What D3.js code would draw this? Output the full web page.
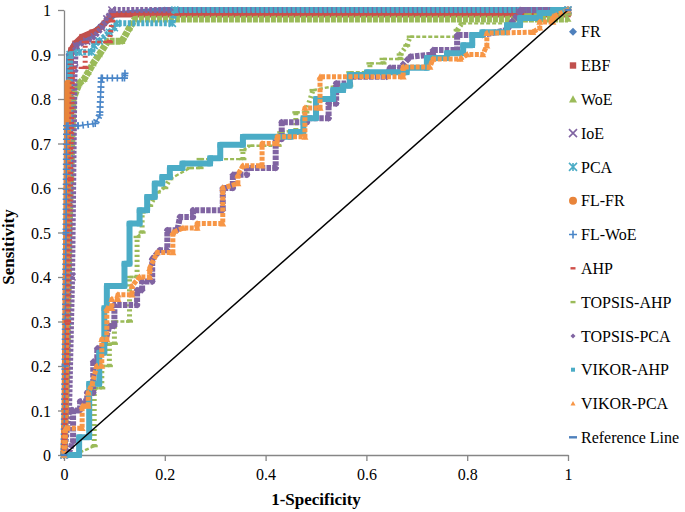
<!DOCTYPE html>
<html>
<head>
<meta charset="utf-8">
<script src="https://cdn.jsdelivr.net/npm/d3@7"></script>
<style>
body{margin:0;background:#fff;}
text{font-family:"Liberation Serif","Times New Roman",serif;fill:#000;}
</style>
</head>
<body>
<svg id="chart" width="685" height="512"></svg>
<script>
// series names (legend order = drawing order)
var seriesNames = ["FR","EBF","WoE","IoE","PCA","FL-FR","FL-WoE","AHP","TOPSIS-AHP","TOPSIS-PCA","VIKOR-AHP","VIKOR-PCA","Reference Line"];
var xTicks = [0,0.2,0.4,0.6,0.8,1];
var yTicks = [0,0.1,0.2,0.3,0.4,0.5,0.6,0.7,0.8,0.9,1];

// ROC points [1-specificity, sensitivity]
var frPts = [[0,0],[0.004,0.2],[0.008,0.5],[0.01,0.9],[0.02,0.92],[0.05,0.94],[0.08,0.97],[0.1,0.99],[0.2,1],[1,1]];
var ebfPts = [[0,0],[0.006,0.2],[0.01,0.5],[0.014,0.91],[0.022,0.925],[0.036,0.94],[0.056,0.95],[0.067,0.955],[0.08,0.97],[0.095,0.99],[1,0.99]];
var woePts = [[0,0],[0.006,0.2],[0.01,0.5],[0.018,0.8],[0.03,0.835],[0.04,0.845],[0.048,0.86],[0.058,0.88],[0.07,0.9],[0.087,0.93],[0.115,0.93],[0.13,0.96],[0.141,0.98],[1,0.98]];
var ioePts = [[0,0],[0.01,0.1],[0.016,0.4],[0.021,0.87],[0.024,0.92],[0.045,0.93],[0.06,0.94],[0.075,0.96],[0.085,0.98],[0.095,1],[1,1]];
var pcaPts = [[0,0],[0.006,0.3],[0.012,0.9],[0.03,0.905],[0.055,0.905],[0.06,0.92],[0.07,0.93],[0.09,0.95],[0.1,0.96],[0.105,0.97],[0.215,0.97],[0.22,1],[1,1]];
var flfrPts = [[0,0],[0.002,0.1],[0.004,0.35],[0.006,0.6],[0.008,0.836],null,[1,1]];
var flwoePts = [[0,0],[0.002,0.2],[0.004,0.5],[0.005,0.74],[0.028,0.74],[0.062,0.745],[0.071,0.764],[0.074,0.847],[0.12,0.847],[0.121,0.858]];
var ahpPts = [[0,0],[0.007,0.3],[0.013,0.62],[0.017,0.87],[0.042,0.87],[0.042,0.928],[0.09,0.928],[0.095,0.975],[0.1,0.99],[1,0.99]];
var topsisAhpPts = [[0,0],[0.02,0],[0.06,0.02],[0.06,0.15],[0.075,0.15],[0.075,0.2],[0.09,0.2],[0.09,0.25],[0.1,0.25],[0.1,0.3],[0.13,0.3],[0.13,0.4],[0.145,0.4],[0.145,0.49],[0.155,0.5],[0.155,0.545],[0.17,0.56],[0.185,0.59],[0.2,0.6],[0.21,0.62],[0.25,0.645],[0.27,0.645],[0.27,0.665],[0.355,0.665],[0.355,0.685],[0.37,0.695],[0.425,0.695],[0.43,0.725],[0.46,0.73],[0.46,0.77],[0.48,0.77],[0.494,0.82],[0.542,0.83],[0.567,0.83],[0.567,0.86],[0.607,0.86],[0.607,0.88],[0.633,0.88],[0.633,0.89],[0.667,0.89],[0.667,0.9],[0.68,0.92],[0.687,0.94],[0.78,0.94],[0.78,0.955],[0.79,0.97],[0.885,0.97],[0.92,0.99],[1,0.99]];
var topsisPcaPts = [[0,0],[0.008,0],[0.018,0.03],[0.018,0.1],[0.032,0.1],[0.032,0.12],[0.046,0.12],[0.046,0.14],[0.058,0.14],[0.058,0.21],[0.066,0.21],[0.066,0.24],[0.078,0.24],[0.09,0.29],[0.1,0.29],[0.1,0.337],[0.145,0.337],[0.145,0.37],[0.155,0.37],[0.155,0.39],[0.175,0.39],[0.175,0.44],[0.19,0.46],[0.205,0.46],[0.205,0.505],[0.225,0.505],[0.23,0.535],[0.256,0.535],[0.256,0.55],[0.315,0.55],[0.315,0.6],[0.335,0.6],[0.335,0.63],[0.363,0.63],[0.363,0.645],[0.42,0.645],[0.42,0.71],[0.432,0.71],[0.432,0.748],[0.482,0.748],[0.482,0.757],[0.525,0.757],[0.525,0.79],[0.54,0.79],[0.54,0.835],[0.567,0.835],[0.567,0.85],[0.64,0.85],[0.647,0.87],[0.667,0.87],[0.687,0.895],[0.732,0.9],[0.732,0.91],[0.78,0.91],[0.78,0.944],[0.83,0.944],[0.879,0.955],[0.89,0.975],[0.905,0.995],[0.905,1],[1,1]];
var vikorAhpPts = [[0,0],[0.03,0],[0.03,0.04],[0.05,0.04],[0.05,0.16],[0.07,0.16],[0.07,0.23],[0.08,0.23],[0.08,0.33],[0.085,0.33],[0.085,0.38],[0.12,0.38],[0.12,0.43],[0.13,0.43],[0.13,0.52],[0.15,0.52],[0.15,0.55],[0.165,0.55],[0.165,0.58],[0.18,0.58],[0.18,0.61],[0.195,0.61],[0.195,0.625],[0.21,0.625],[0.21,0.645],[0.235,0.645],[0.235,0.655],[0.29,0.655],[0.29,0.667],[0.31,0.667],[0.31,0.697],[0.355,0.697],[0.355,0.715],[0.45,0.715],[0.45,0.726],[0.475,0.726],[0.475,0.757],[0.5,0.757],[0.5,0.8],[0.534,0.8],[0.534,0.82],[0.554,0.82],[0.554,0.83],[0.567,0.83],[0.567,0.854],[0.601,0.854],[0.601,0.86],[0.68,0.86],[0.68,0.87],[0.72,0.87],[0.72,0.892],[0.76,0.892],[0.76,0.903],[0.792,0.903],[0.792,0.921],[0.81,0.921],[0.81,0.944],[0.83,0.944],[0.83,0.95],[0.879,0.95],[0.879,0.966],[0.905,0.966],[0.905,0.982],[0.944,0.982],[0.944,0.993],[0.97,0.993],[0.97,1],[1,1]];
var vikorPcaPts = [[0,0],[0.003,0.06],[0.036,0.06],[0.036,0.11],[0.048,0.11],[0.048,0.14],[0.056,0.16],[0.065,0.2],[0.075,0.2],[0.075,0.26],[0.085,0.26],[0.085,0.33],[0.095,0.33],[0.095,0.35],[0.107,0.35],[0.107,0.36],[0.135,0.36],[0.135,0.38],[0.15,0.4],[0.17,0.4],[0.17,0.42],[0.185,0.455],[0.216,0.455],[0.216,0.5],[0.236,0.51],[0.264,0.51],[0.264,0.52],[0.315,0.52],[0.315,0.6],[0.345,0.61],[0.345,0.63],[0.355,0.65],[0.393,0.65],[0.393,0.7],[0.423,0.7],[0.423,0.715],[0.478,0.715],[0.478,0.78],[0.508,0.78],[0.508,0.85],[0.673,0.85],[0.673,0.872],[0.726,0.872],[0.732,0.89],[0.786,0.89],[0.8,0.9],[0.831,0.9],[0.839,0.92],[0.839,0.948],[0.93,0.95],[0.944,0.96],[0.944,0.973],[0.97,0.973],[0.97,0.985],[1,1]];
var refPts = [[0,0],[1,1]];

var seriesPts = [frPts,ebfPts,woePts,ioePts,pcaPts,flfrPts,flwoePts,ahpPts,topsisAhpPts,topsisPcaPts,vikorAhpPts,vikorPcaPts,refPts];

// look of each series
var styles = [
  {color:"#4F81BD", mark:"diamond", w:6},
  {color:"#C0504D", mark:"square", w:6},
  {color:"#9BBB59", mark:"triangle", w:7, dash:"5,1"},
  {color:"#8064A2", mark:"x", w:6, dash:"3,1.5"},
  {color:"#4BACC6", mark:"asterisk", w:6, dash:"3,1.5"},
  {color:"#E8843A", mark:"circle", w:7},
  {color:"#4A86C8", mark:"plus", w:7, cross:true},
  {color:"#D0504A", mark:"dash", ladder:true},
  {color:"#9BBB59", mark:"dash", ladder:true},
  {color:"#8064A2", mark:"diamond", w:6, dash:"4.5,1.2"},
  {color:"#4BACC6", mark:"square", w:6},
  {color:"#F79646", mark:"triangle", w:5, dash:"4,1.5"},
  {color:"#000000", mark:"dash", w:1.5, legendColor:"#4F81BD", ref:true}
];

var svg = d3.select("#chart");
var x = d3.scaleLinear().domain([0,1]).range([64,568]);
var y = d3.scaleLinear().domain([0,1]).range([455,10]);

function marker(g, type, cx, cy, s, color){
  var h = s/2;
  if(type=="diamond"){
    g.append("path").attr("d","M"+cx+","+(cy-h)+"L"+(cx+h)+","+cy+"L"+cx+","+(cy+h)+"L"+(cx-h)+","+cy+"Z").attr("fill",color);
  }else if(type=="square"){
    g.append("rect").attr("x",cx-h*0.8).attr("y",cy-h*0.8).attr("width",s*0.8).attr("height",s*0.8).attr("fill",color);
  }else if(type=="triangle"){
    g.append("path").attr("d","M"+cx+","+(cy-h)+"L"+(cx+h)+","+(cy+h*0.8)+"L"+(cx-h)+","+(cy+h*0.8)+"Z").attr("fill",color);
  }else if(type=="circle"){
    g.append("circle").attr("cx",cx).attr("cy",cy).attr("r",h).attr("fill",color);
  }else if(type=="x" || type=="asterisk"){
    var d = "M"+(cx-h)+","+(cy-h)+"L"+(cx+h)+","+(cy+h)+"M"+(cx+h)+","+(cy-h)+"L"+(cx-h)+","+(cy+h);
    if(type=="asterisk") d += "M"+cx+","+(cy-h)+"L"+cx+","+(cy+h);
    g.append("path").attr("d",d).attr("stroke",color).attr("stroke-width",1.6).attr("fill","none");
  }else if(type=="plus"){
    g.append("path").attr("d","M"+(cx-h)+","+cy+"L"+(cx+h)+","+cy+"M"+cx+","+(cy-h)+"L"+cx+","+(cy+h))
      .attr("stroke",color).attr("stroke-width",1.6).attr("fill","none");
  }else if(type=="dash"){
    g.append("rect").attr("x",cx-h).attr("y",cy-1.2).attr("width",s).attr("height",2.4).attr("fill",color);
  }
}

var line = d3.line().defined(function(d){ return d != null; })
  .x(function(d){ return x(d[0]); })
  .y(function(d){ return y(d[1]); });

// axes
var axisColor = "#868686";
var yAxis = svg.append("g").attr("transform","translate(64,0)")
  .call(d3.axisLeft(y).tickValues(yTicks).tickSize(6).tickSizeOuter(0).tickFormat(d3.format("")));
var xAxis = svg.append("g").attr("transform","translate(0,455)")
  .call(d3.axisBottom(x).tickValues(xTicks).tickSize(6).tickSizeOuter(0).tickFormat(d3.format("")));
[yAxis,xAxis].forEach(function(a){
  a.select(".domain").attr("stroke",axisColor).attr("stroke-width",1.3);
  a.selectAll(".tick line").attr("stroke",axisColor).attr("stroke-width",1.3);
  a.selectAll(".tick text").style("font-family","'Liberation Serif',serif").style("font-size","16px").attr("fill","#000");
});
yAxis.selectAll(".tick text").attr("x",-13).attr("dy","0.35em");
xAxis.selectAll(".tick text").attr("y",14).attr("dy","0.71em");

// series
seriesPts.forEach(function(pts, i){
  var st = styles[i];
  var g = svg.append("g");
  if(st.ref){
    g.append("path").attr("d",line(pts)).attr("fill","none").attr("stroke",st.color).attr("stroke-width",st.w);
    pts.forEach(function(p){ marker(g,"dash",x(p[0]),y(p[1]),7,st.legendColor); });
    return;
  }
  if(st.ladder){
    for(var k=1;k<pts.length;k++){
      var a = pts[k-1], b = pts[k];
      if(!a || !b) continue;
      var dx = Math.abs(x(b[0])-x(a[0])), dy = Math.abs(y(b[1])-y(a[1]));
      var seg = g.append("line").attr("x1",x(a[0])).attr("y1",y(a[1])).attr("x2",x(b[0])).attr("y2",y(b[1])).attr("stroke",st.color);
      if(dy <= dx) seg.attr("stroke-width",2.4).attr("stroke-dasharray","4,2");
      else seg.attr("stroke-width",5).attr("stroke-dasharray","2.2,2.8");
    }
  }else{
    g.append("path").attr("d",line(pts)).attr("fill","none").attr("stroke",st.color)
      .attr("stroke-width",st.cross ? 1.6 : st.w).attr("stroke-linejoin","round")
      .attr("stroke-dasharray",st.cross ? null : (st.dash || null));
    if(st.cross){
      g.append("path").attr("d",line(pts)).attr("fill","none").attr("stroke",st.color)
        .attr("stroke-width",st.w).attr("stroke-dasharray","1.6,3.4");
    }
  }
  pts.forEach(function(p){
    if(p) marker(g, st.mark, x(p[0]), y(p[1]), 7, st.color);
  });
});

// legend
var legend = svg.append("g");
seriesNames.forEach(function(name, i){
  var ly = 31.7 + i*33.8;
  var st = styles[i];
  var small = (i >= 7 && i <= 11);
  marker(legend, st.mark, 573, ly, small ? 5 : 8, st.legendColor || st.color);
  legend.append("text").attr("x",581).attr("y",ly).attr("dy","0.35em").style("font-size","16px").text(name);
});

// axis titles
svg.append("text").attr("x",316).attr("y",505).attr("text-anchor","middle")
  .style("font-size","17px").style("font-weight","bold").text("1-Specificity");
svg.append("text").attr("transform","translate(14,247) rotate(-90)").attr("text-anchor","middle")
  .style("font-size","17px").style("font-weight","bold").text("Sensitivity");
</script>
</body>
</html>
